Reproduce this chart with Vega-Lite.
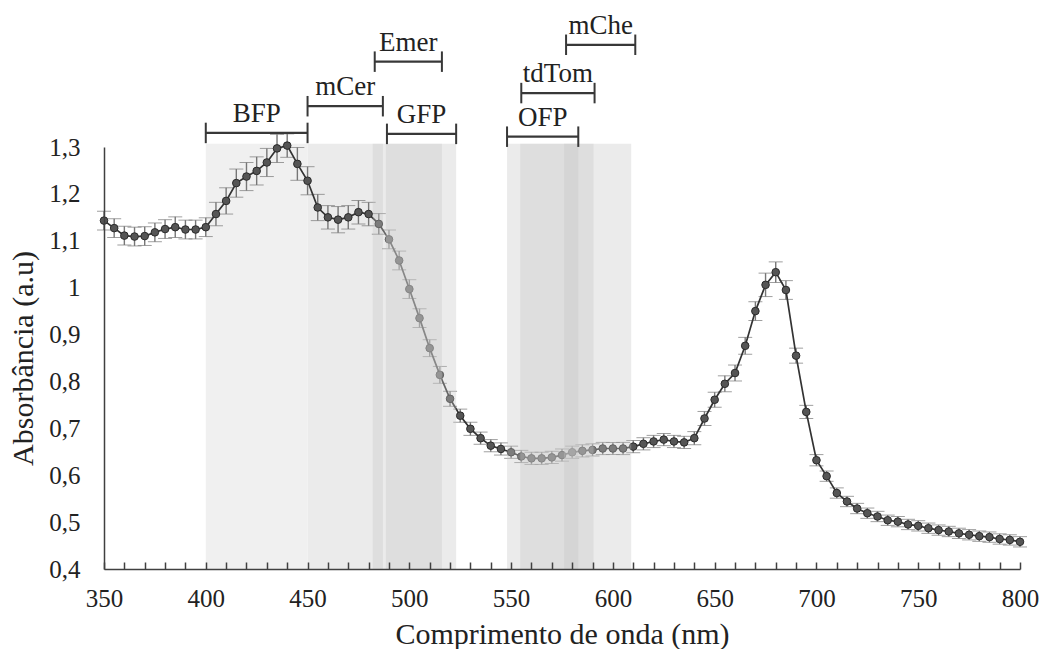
{
  "$schema": "https://vega.github.io/schema/vega-lite/v6.json",
  "width": 916,
  "height": 422,
  "autosize": "none",
  "padding": {"left": 104, "top": 147, "right": 23, "bottom": 80},
  "background": "white",
  "config": {"view": {"stroke": null}, "font": "Liberation Serif"},
  "datasets": {
    "curve": [
      {"nm": 350, "a": 1.143, "err": 0.02}, {"nm": 355, "a": 1.127, "err": 0.02}, {"nm": 360, "a": 1.111, "err": 0.02},
      {"nm": 365, "a": 1.109, "err": 0.02}, {"nm": 370, "a": 1.110, "err": 0.02}, {"nm": 375, "a": 1.118, "err": 0.02},
      {"nm": 380, "a": 1.125, "err": 0.02}, {"nm": 385, "a": 1.129, "err": 0.022}, {"nm": 390, "a": 1.124, "err": 0.02},
      {"nm": 395, "a": 1.124, "err": 0.02}, {"nm": 400, "a": 1.129, "err": 0.02}, {"nm": 405, "a": 1.157, "err": 0.025},
      {"nm": 410, "a": 1.185, "err": 0.028}, {"nm": 415, "a": 1.223, "err": 0.03}, {"nm": 420, "a": 1.237, "err": 0.03},
      {"nm": 425, "a": 1.249, "err": 0.03}, {"nm": 430, "a": 1.267, "err": 0.03}, {"nm": 435, "a": 1.297, "err": 0.03},
      {"nm": 440, "a": 1.303, "err": 0.025}, {"nm": 445, "a": 1.264, "err": 0.035}, {"nm": 450, "a": 1.228, "err": 0.03},
      {"nm": 455, "a": 1.171, "err": 0.028}, {"nm": 460, "a": 1.150, "err": 0.025}, {"nm": 465, "a": 1.145, "err": 0.028},
      {"nm": 470, "a": 1.150, "err": 0.025}, {"nm": 475, "a": 1.161, "err": 0.025}, {"nm": 480, "a": 1.157, "err": 0.025},
      {"nm": 485, "a": 1.136, "err": 0.022}, {"nm": 490, "a": 1.103, "err": 0.02}, {"nm": 495, "a": 1.058, "err": 0.02},
      {"nm": 500, "a": 0.997, "err": 0.02}, {"nm": 505, "a": 0.935, "err": 0.02}, {"nm": 510, "a": 0.871, "err": 0.018},
      {"nm": 515, "a": 0.814, "err": 0.018}, {"nm": 520, "a": 0.763, "err": 0.016}, {"nm": 525, "a": 0.727, "err": 0.014},
      {"nm": 530, "a": 0.699, "err": 0.014}, {"nm": 535, "a": 0.679, "err": 0.013}, {"nm": 540, "a": 0.663, "err": 0.013},
      {"nm": 545, "a": 0.656, "err": 0.013}, {"nm": 550, "a": 0.649, "err": 0.013}, {"nm": 555, "a": 0.640, "err": 0.013},
      {"nm": 560, "a": 0.636, "err": 0.013}, {"nm": 565, "a": 0.636, "err": 0.013}, {"nm": 570, "a": 0.638, "err": 0.013},
      {"nm": 575, "a": 0.643, "err": 0.013}, {"nm": 580, "a": 0.649, "err": 0.013}, {"nm": 585, "a": 0.652, "err": 0.013},
      {"nm": 590, "a": 0.654, "err": 0.013}, {"nm": 595, "a": 0.657, "err": 0.013}, {"nm": 600, "a": 0.657, "err": 0.013},
      {"nm": 605, "a": 0.657, "err": 0.013}, {"nm": 610, "a": 0.661, "err": 0.013}, {"nm": 615, "a": 0.667, "err": 0.013},
      {"nm": 620, "a": 0.672, "err": 0.013}, {"nm": 625, "a": 0.676, "err": 0.013}, {"nm": 630, "a": 0.672, "err": 0.013},
      {"nm": 635, "a": 0.670, "err": 0.013}, {"nm": 640, "a": 0.679, "err": 0.014}, {"nm": 645, "a": 0.721, "err": 0.015},
      {"nm": 650, "a": 0.761, "err": 0.016}, {"nm": 655, "a": 0.795, "err": 0.017}, {"nm": 660, "a": 0.818, "err": 0.017},
      {"nm": 665, "a": 0.876, "err": 0.018}, {"nm": 670, "a": 0.950, "err": 0.02}, {"nm": 675, "a": 1.006, "err": 0.025},
      {"nm": 680, "a": 1.033, "err": 0.022}, {"nm": 685, "a": 0.995, "err": 0.02}, {"nm": 690, "a": 0.855, "err": 0.016},
      {"nm": 695, "a": 0.735, "err": 0.014}, {"nm": 700, "a": 0.632, "err": 0.012}, {"nm": 705, "a": 0.598, "err": 0.011},
      {"nm": 710, "a": 0.562, "err": 0.011}, {"nm": 715, "a": 0.544, "err": 0.011}, {"nm": 720, "a": 0.529, "err": 0.011},
      {"nm": 725, "a": 0.519, "err": 0.011}, {"nm": 730, "a": 0.512, "err": 0.011}, {"nm": 735, "a": 0.504, "err": 0.011},
      {"nm": 740, "a": 0.501, "err": 0.011}, {"nm": 745, "a": 0.495, "err": 0.011}, {"nm": 750, "a": 0.492, "err": 0.011},
      {"nm": 755, "a": 0.487, "err": 0.011}, {"nm": 760, "a": 0.483, "err": 0.011}, {"nm": 765, "a": 0.480, "err": 0.011},
      {"nm": 770, "a": 0.476, "err": 0.011}, {"nm": 775, "a": 0.473, "err": 0.011}, {"nm": 780, "a": 0.470, "err": 0.011},
      {"nm": 785, "a": 0.468, "err": 0.011}, {"nm": 790, "a": 0.464, "err": 0.011}, {"nm": 795, "a": 0.462, "err": 0.011},
      {"nm": 800, "a": 0.458, "err": 0.011}
    ],
    "bands": [
      {"name": "BFP", "start": 400, "end": 450, "layer": "back"},
      {"name": "mCer", "start": 450, "end": 487, "layer": "back"},
      {"name": "Emer", "start": 482, "end": 516, "layer": "front"},
      {"name": "GFP", "start": 488.5, "end": 523, "layer": "front"},
      {"name": "OFP", "start": 548, "end": 583, "layer": "front"},
      {"name": "tdTom", "start": 554.5, "end": 590.5, "layer": "front"},
      {"name": "mChe", "start": 576, "end": 609, "layer": "front"}
    ],
    "brackets": [
      {"label": "BFP", "start": 400, "end": 450, "mid": 425, "level": 1.330},
      {"label": "mCer", "start": 450, "end": 487, "mid": 468.5, "level": 1.387},
      {"label": "Emer", "start": 483, "end": 516, "mid": 499.5, "level": 1.482},
      {"label": "GFP", "start": 489, "end": 523, "mid": 506, "level": 1.328},
      {"label": "OFP", "start": 548, "end": 583, "mid": 565.5, "level": 1.322},
      {"label": "tdTom", "start": 555, "end": 591, "mid": 573, "level": 1.415},
      {"label": "mChe", "start": 577, "end": 611, "mid": 594, "level": 1.518}
    ]
  },
  "encoding": {
    "x": {
      "type": "quantitative",
      "scale": {"domain": [350, 800], "nice": false, "zero": false},
      "title": "Comprimento de onda (nm)",
      "axis": {
        "values": [350, 360, 370, 380, 390, 400, 410, 420, 430, 440, 450, 460, 470, 480, 490, 500, 510, 520, 530, 540, 550, 560, 570, 580, 590, 600, 610, 620, 630, 640, 650, 660, 670, 680, 690, 700, 710, 720, 730, 740, 750, 760, 770, 780, 790, 800],
        "labelExpr": "datum.value % 50 === 0 ? datum.label : ''",
        "labelOverlap": false, "labelFlush": false,
        "grid": false, "tickSize": -7, "tickColor": "#404040", "tickWidth": 1.5,
        "domainColor": "#404040", "domainWidth": 1.5,
        "labelFont": "Liberation Serif", "labelFontSize": 25, "labelColor": "#222222", "labelPadding": 24,
        "titleFont": "Liberation Serif", "titleFontSize": 30, "titleFontWeight": "normal", "titleColor": "#222222", "titlePadding": 8,
        "zindex": 1
      }
    },
    "y": {
      "type": "quantitative",
      "scale": {"domain": [0.4, 1.3], "nice": false, "zero": false},
      "title": "Absorbância (a.u)",
      "axis": {
        "values": [0.4, 0.5, 0.6, 0.7, 0.8, 0.9, 1, 1.1, 1.2, 1.3],
        "labelExpr": "replace(format(datum.value, '.1~f'), '.', ',')",
        "grid": false, "ticks": false,
        "domainColor": "#404040", "domainWidth": 1.5,
        "labelFont": "Liberation Serif", "labelFontSize": 25, "labelColor": "#222222", "labelPadding": 24,
        "titleFont": "Liberation Serif", "titleFontSize": 30, "titleFontWeight": "normal", "titleColor": "#222222", "titlePadding": 10,
        "zindex": 1
      }
    }
  },
  "layer": [
    {
      "data": {"name": "bands"},
      "transform": [{"filter": "datum.layer === 'back'"}],
      "mark": {"type": "rect"},
      "encoding": {
        "x": {"field": "start"},
        "x2": {"field": "end"},
        "y": {"datum": 0.4},
        "y2": {"datum": 1.307},
        "color": {"field": "name", "type": "nominal", "scale": {"domain": ["BFP", "mCer"], "range": ["#f0f0f0", "#ebebeb"]}, "legend": null}
      }
    },
    {
      "data": {"name": "curve"},
      "mark": {"type": "errorbar", "ticks": {"size": 14, "color": "#767676", "strokeWidth": 1.4}, "rule": {"color": "#767676", "strokeWidth": 1.4}},
      "encoding": {
        "x": {"field": "nm"},
        "y": {"field": "a"},
        "yError": {"field": "err"}
      }
    },
    {
      "data": {"name": "curve"},
      "mark": {"type": "line", "color": "#333333", "strokeWidth": 1.7},
      "encoding": {
        "x": {"field": "nm"},
        "y": {"field": "a"}
      }
    },
    {
      "data": {"name": "curve"},
      "mark": {"type": "point", "shape": "circle", "filled": true, "fill": "#555555", "stroke": "#2a2a2a", "strokeWidth": 1, "size": 58, "opacity": 1},
      "encoding": {
        "x": {"field": "nm"},
        "y": {"field": "a"}
      }
    },
    {
      "data": {"name": "bands"},
      "transform": [{"filter": "datum.layer === 'front'"}],
      "mark": {"type": "rect", "color": "#c6c6c6", "opacity": 0.35},
      "encoding": {
        "x": {"field": "start"},
        "x2": {"field": "end"},
        "y": {"datum": 0.4},
        "y2": {"datum": 1.307}
      }
    },
    {
      "data": {"name": "brackets"},
      "mark": {"type": "rule", "color": "#383838", "strokeWidth": 2.2},
      "encoding": {
        "x": {"field": "start"},
        "x2": {"field": "end"},
        "y": {"field": "level"}
      }
    },
    {
      "data": {"name": "brackets"},
      "transform": [{"fold": ["start", "end"], "as": ["side", "xpos"]}],
      "mark": {"type": "point", "shape": "M0,-1L0,1", "filled": false, "stroke": "#383838", "strokeWidth": 2, "size": 420, "opacity": 1},
      "encoding": {
        "x": {"field": "xpos"},
        "y": {"field": "level"}
      }
    },
    {
      "data": {"name": "brackets"},
      "mark": {"type": "text", "font": "Liberation Serif", "fontSize": 27, "color": "#222222", "baseline": "alphabetic", "align": "center", "dy": -11},
      "encoding": {
        "x": {"field": "mid"},
        "y": {"field": "level"},
        "text": {"field": "label"}
      }
    }
  ]
}
